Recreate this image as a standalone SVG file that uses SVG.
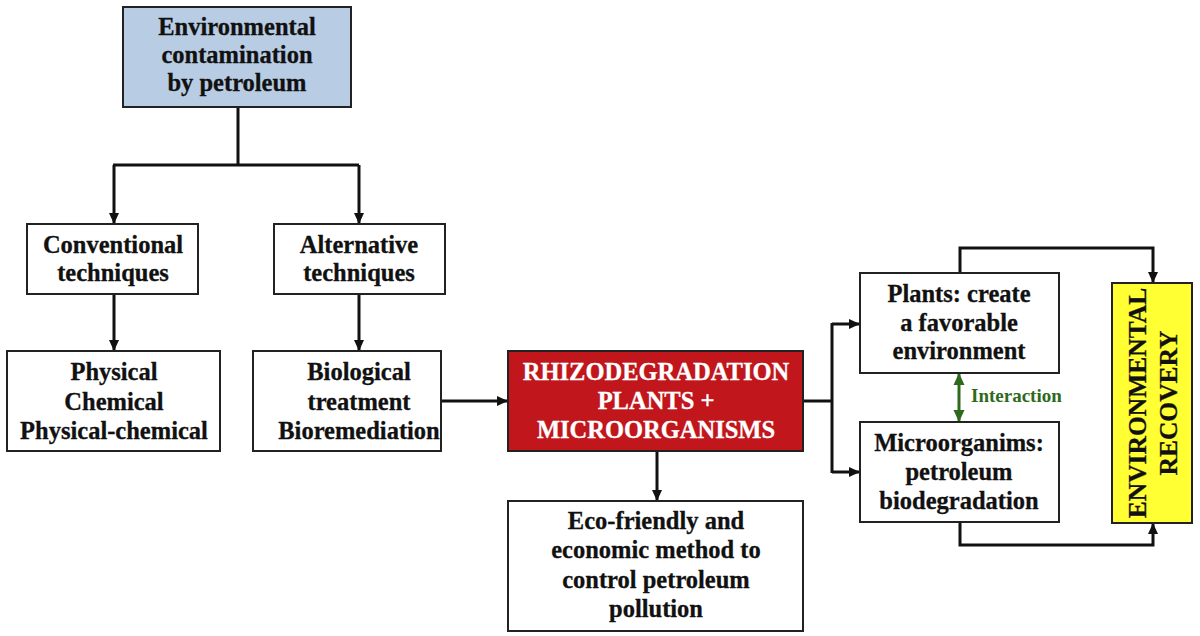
<svg xmlns="http://www.w3.org/2000/svg" width="1200" height="636" viewBox="0 0 1200 636">
<style>
.box{fill:#fff;stroke:#222;stroke-width:2}
.t{font-family:"Liberation Serif","Times New Roman",serif;font-weight:bold;font-size:24.5px;fill:#111;text-anchor:middle;stroke:#111;stroke-width:0.3}
.w{fill:#fff;stroke:#fff}
.c{fill:none;stroke:#111;stroke-width:3}
.g{fill:none;stroke:#2f6a1c;stroke-width:3}
</style>
<defs>
<marker id="ah" markerWidth="11" markerHeight="11" refX="10" refY="5.5" orient="auto" markerUnits="userSpaceOnUse"><path d="M0,0.5 L11,5.5 L0,10.5 Z" fill="#111"/></marker>
<marker id="gh" markerWidth="12" markerHeight="12" refX="11" refY="6" orient="auto-start-reverse" markerUnits="userSpaceOnUse"><path d="M0,0.5 L12,6 L0,11.5 Z" fill="#2f6a1c"/></marker>
</defs>
<g id="connectors">
<path class="c" d="M238,107 V165 M113,165 H359"/>
<path class="c" d="M114,165 V223" marker-end="url(#ah)"/>
<path class="c" d="M359,165 V223" marker-end="url(#ah)"/>
<path class="c" d="M114,294 V350" marker-end="url(#ah)"/>
<path class="c" d="M359,294 V350" marker-end="url(#ah)"/>
<path class="c" d="M441,401 H507" marker-end="url(#ah)"/>
<path class="c" d="M657,451 V500" marker-end="url(#ah)"/>
<path class="c" d="M803,401 H832 M832,323 V473"/>
<path class="c" d="M832,324 H859" marker-end="url(#ah)"/>
<path class="c" d="M832,472 H859" marker-end="url(#ah)"/>
<path class="c" d="M960,273 V248 H1153 V282" marker-end="url(#ah)"/>
<path class="c" d="M960,522 V545 H1153 V524" marker-end="url(#ah)"/>
<path class="g" d="M959,374 V421" marker-start="url(#gh)" marker-end="url(#gh)"/>
<text x="971" y="402" style="font-family:'Liberation Serif','Times New Roman',serif;font-weight:bold;font-size:19px;fill:#2f6a1c">Interaction</text>
</g>
<g id="n-env">
<rect x="123" y="7" width="228" height="100" fill="#b8cce4" stroke="#222" stroke-width="2"/>
<text class="t" x="237" y="35">Environmental</text>
<text class="t" x="237" y="63">contamination</text>
<text class="t" x="237" y="91">by petroleum</text>
</g>
<g id="n-conv">
<rect class="box" x="27" y="224" width="171" height="70"/>
<text class="t" x="113" y="253">Conventional</text>
<text class="t" x="113" y="281">techniques</text>
</g>
<g id="n-alt">
<rect class="box" x="274" y="224" width="171" height="70"/>
<text class="t" x="359" y="253">Alternative</text>
<text class="t" x="359" y="281">techniques</text>
</g>
<g id="n-phys">
<rect class="box" x="7" y="351" width="213" height="100"/>
<text class="t" x="114" y="380">Physical</text>
<text class="t" x="114" y="410">Chemical</text>
<text class="t" x="114" y="439">Physical-chemical</text>
</g>
<g id="n-bio">
<rect class="box" x="253" y="351" width="188" height="100"/>
<text class="t" x="359" y="380">Biological</text>
<text class="t" x="359" y="410">treatment</text>
<text class="t" x="359" y="439">Bioremediation</text>
</g>
<g id="n-rhizo">
<rect x="508" y="351" width="295" height="100" fill="#c0161c" stroke="#222" stroke-width="2"/>
<text class="t w" x="656" y="380">RHIZODEGRADATION</text>
<text class="t w" x="656" y="409">PLANTS +</text>
<text class="t w" x="656" y="438">MICROORGANISMS</text>
</g>
<g id="n-eco">
<rect class="box" x="508" y="501" width="295" height="130"/>
<text class="t" x="656" y="529">Eco-friendly and</text>
<text class="t" x="656" y="558">economic method to</text>
<text class="t" x="656" y="588">control petroleum</text>
<text class="t" x="656" y="617">pollution</text>
</g>
<g id="n-plants">
<rect class="box" x="860" y="273" width="199" height="100"/>
<text class="t" x="959" y="302">Plants: create</text>
<text class="t" x="959" y="331">a favorable</text>
<text class="t" x="959" y="359">environment</text>
</g>
<g id="n-micro">
<rect class="box" x="860" y="422" width="199" height="100"/>
<text class="t" x="959" y="451">Microorganims:</text>
<text class="t" x="959" y="480">petroleum</text>
<text class="t" x="959" y="509">biodegradation</text>
</g>
<g id="n-recovery">
<rect x="1112" y="283" width="80" height="240" fill="#ffff33" stroke="#222" stroke-width="2"/>
<text class="t" transform="translate(1146,403) rotate(-90)" style="font-size:25.5px">ENVIRONMENTAL</text>
<text class="t" transform="translate(1177,403) rotate(-90)" style="font-size:25.5px">RECOVERY</text>
</g>
</svg>
